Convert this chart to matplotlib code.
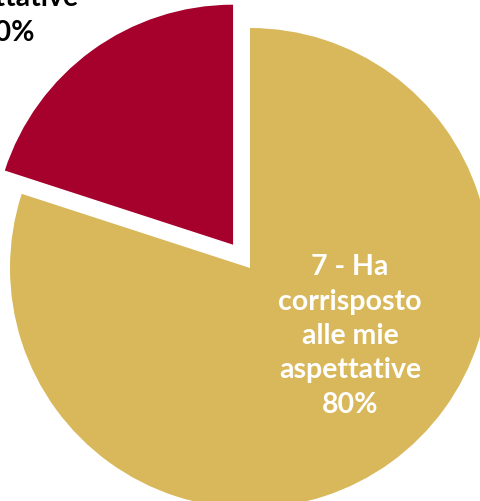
import matplotlib.pyplot as plt

# data
labels = ["7 - Ha\ncorrisposto\nalle mie\naspettative", "8 - Ha\nsuperato\nle mie\naspettative"]
shares = [80, 20]
colors = ["#D9B85B", "#A6002C"]

W, H = 481, 501
cx, cy, r = 250, 268, 240  # pie centre / radius in pixels

fig = plt.figure(figsize=(W / 100, H / 100), dpi=100)
ax = fig.add_axes([0, 0, 1, 1])
ax.pie(
    shares,
    colors=colors,
    startangle=90,
    counterclock=False,
    explode=[0, 0.12],
    radius=1,
    wedgeprops=dict(linewidth=0),
)
ax.set_xlim(-cx / r, (W - cx) / r)
ax.set_ylim(-(H - cy) / r, cy / r)
ax.set_aspect("equal")
ax.axis("off")


def px(x, y):
    return (x - cx) / r, (cy - y) / r


style = dict(ha="center", va="center", multialignment="center",
             fontsize=20.5, fontfamily="Lato", fontweight="bold", linespacing=1.4)
ax.text(*px(350, 336), f"{labels[0]}\n{shares[0]}%", color="white", **style)
ax.text(*px(7, -36), f"{labels[1]}\n{shares[1]}%", color="black", **style)

fig.savefig("out.png", dpi=100)
